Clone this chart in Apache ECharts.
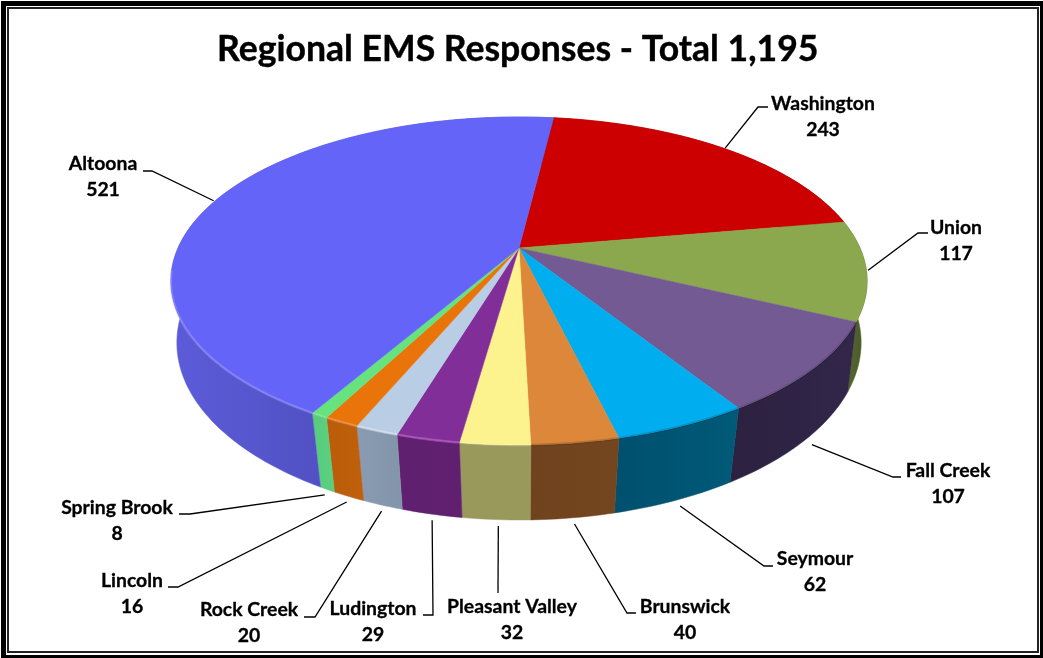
<!DOCTYPE html>
<html>
<head>
<meta charset="utf-8">
<style>html,body{margin:0;padding:0;background:#fff}#c{width:1043px;height:658px}</style>
<script src="https://cdn.jsdelivr.net/npm/echarts@6/dist/echarts.min.js"></script>
</head>
<body>
<div id="c"></div>
<script>
var titleText = 'Regional EMS Responses - Total 1,195';
var categories = ['Washington','Union','Fall Creek','Seymour','Brunswick','Pleasant Valley','Ludington','Rock Creek','Lincoln','Spring Brook','Altoona'];
var values = [243,117,107,62,40,32,29,20,16,8,521];
var topColors = ['#cc0000','#8ba84e','#745a93','#00aeef','#dd873a','#fcf28e','#812e98','#b9cde5','#e9740a','#66e27f','#6464f8'];
var wallColors = [['#8a0000','#8a0000'],['#5a6e30','#46552a'],['#2c2140','#32264a'],['#00506e','#005a78'],['#6f431d','#744620'],['#9a995c','#9a995c'],['#5f2070','#611f70'],['#8a9cb2','#8294a8'],['#bb5c0a','#c0600c'],['#58cc7c','#5ad080'],['#5c5cda','#4040a0']];
var rimColors = ['rgba(0,0,0,0)','rgba(0,0,0,0)','rgba(0,0,0,0.12)','rgba(0,0,0,0.15)','rgba(0,0,0,0.15)','rgba(255,255,255,0.15)','rgba(255,160,255,0.3)','rgba(255,255,255,0.35)','rgba(255,255,255,0.2)','rgba(255,255,255,0.15)','rgba(190,190,255,0.3)'];
// label centre (x, y of name line), leader elbow and tail end
var labelLayout = [
  {x:823,y:104,elbow:[758,107],tail:[768,107]},
  {x:956,y:228,elbow:[918,233],tail:[928,233]},
  {x:948,y:471,elbow:[893,477],tail:[901,477]},
  {x:815,y:559,elbow:[764,566],tail:[773,566]},
  {x:685,y:607,elbow:[627,613],tail:[636,613]},
  {x:512,y:607,elbow:null,tail:[498,593]},
  {x:373,y:609,elbow:[433,615],tail:[423,615]},
  {x:249,y:610,elbow:[315,617],tail:[304,617]},
  {x:132,y:581,elbow:[178,587],tail:[168,587]},
  {x:117,y:508,elbow:[190,514],tail:[179,514]},
  {x:103,y:164,elbow:[152,171],tail:[143,171]}
];
// perspective model of the disc
var startDeg = 7, cx = 519, rimEndDeg = 262;
var topPlane = {a:341, b:157.4, y0:248, k:0.2012};
var bottomPlane = {a:337, b:172, y0:312, k:0.173};
var total = values.reduce(function(s,v){return s+v;},0);
var FONT = '"Lato","Noto Sans",sans-serif';

function project(deg, plane, t){
  var r = deg*Math.PI/180, u = Math.sin(r)*t, v = -Math.cos(r)*t, s = 1/(1-plane.k*v);
  return [cx + plane.a*u*s, plane.y0 + plane.b*v*s];
}
function sliceAngles(i){
  var sum = 0;
  for (var j=0;j<i;j++) sum += values[j];
  return [startDeg + sum/total*360, startDeg + (sum+values[i])/total*360];
}
function arc(a0,a1,plane){
  var n = Math.max(2,Math.ceil(Math.abs(a1-a0))), pts=[];
  for (var i=0;i<=n;i++) pts.push(project(a0+(a1-a0)*i/n,plane,1));
  return pts;
}
function renderWall(params, api){
  var i = params.dataIndex, a = sliceAngles(i);
  var pts = arc(a[0],a[1],topPlane).concat(arc(a[0],a[1],bottomPlane).reverse());
  return {type:'polygon',shape:{points:pts},style:{
    fill:new echarts.graphic.LinearGradient(0,0,1,0,[{offset:0,color:wallColors[i][0]},{offset:1,color:wallColors[i][1]}]),
    stroke:wallColors[i][0],lineWidth:0.5}};
}
function renderTop(params, api){
  var i = params.dataIndex, a = sliceAngles(i);
  var pts = [[cx,topPlane.y0]].concat(arc(a[0],a[1],topPlane));
  var rim = arc(a[0],Math.min(a[1],rimEndDeg),topPlane);
  return {type:'group',children:[
    {type:'polygon',shape:{points:pts},style:{fill:topColors[i],stroke:topColors[i],lineWidth:0.5}},
    {type:'polyline',shape:{points:rim},style:{fill:null,stroke:rimColors[i],lineWidth:2.5}}
  ]};
}
function renderLabel(params, api){
  var i = params.dataIndex, a = sliceAngles(i), mid = (a[0]+a[1])/2, norm = (mid+360)%360;
  var front = norm>120 && norm<240;
  var anchor = front ? project(mid,bottomPlane,1.025) : project(mid,topPlane,1.005);
  if (front && norm>180) anchor[0] += 3;
  var L = labelLayout[i], pts = [anchor];
  if (L.elbow) pts.push(L.elbow);
  pts.push(L.tail);
  var font = 'bold 19.4px '+FONT;
  return {type:'group',children:[
    {type:'polyline',shape:{points:pts},style:{fill:null,stroke:'#000',lineWidth:1.3}},
    {type:'text',style:{text:categories[i],x:L.x,y:L.y,align:'center',verticalAlign:'middle',fill:'#000',stroke:'#000',lineWidth:0.3,font:font}},
    {type:'text',style:{text:String(api.value(0)),x:L.x,y:L.y+25.5,align:'center',verticalAlign:'middle',fill:'#000',stroke:'#000',lineWidth:0.3,font:font}}
  ]};
}
var chart = echarts.init(document.getElementById('c'),null,{renderer:'canvas'});
chart.setOption({
  animation:false,
  backgroundColor:'#fff',
  title:{text:titleText,left:212,top:27,textStyle:{fontFamily:FONT,fontWeight:'bold',fontSize:35.6,color:'#000',textBorderColor:'#000',textBorderWidth:0.4}},
  graphic:[
    {type:'rect',silent:true,shape:{x:3.5,y:3.5,width:1039,height:654},style:{fill:null,stroke:'#000',lineWidth:5}},
    {type:'rect',silent:true,shape:{x:8,y:8,width:1030,height:644},style:{fill:null,stroke:'#222',lineWidth:2}}
  ],
  series:[
    {type:'custom',coordinateSystem:'none',z:1,data:values.map(function(v){return [v];}),renderItem:renderWall,silent:true},
    {type:'custom',coordinateSystem:'none',z:2,data:values.map(function(v){return [v];}),renderItem:renderTop,silent:true},
    {type:'custom',coordinateSystem:'none',z:3,data:values.map(function(v){return [v];}),renderItem:renderLabel,silent:true}
  ]
});
</script>
</body>
</html>
